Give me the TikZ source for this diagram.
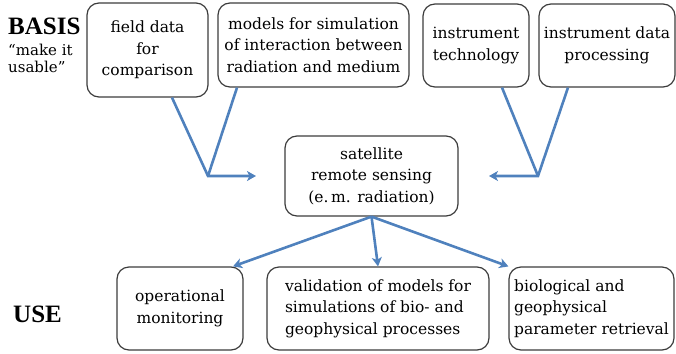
\documentclass[tikz,border=0pt]{standalone}
\usepackage{fontspec}
\setmainfont{DejaVu Serif}
\newfontfamily\headfont{Liberation Serif}
\usetikzlibrary{positioning,arrows.meta,calc}
\definecolor{flowblue}{RGB}{79,129,189}
\definecolor{boxgray}{RGB}{60,60,60}

\begin{document}
\begin{tikzpicture}[x=1pt, y=-1pt,
        topic/.style={rounded corners=12pt, draw=boxgray, line width=1.2pt, align=center, inner sep=2pt,
            font=\fontsize{15.5}{21.5}\selectfont},
        heading/.style={font=\headfont\bfseries\fontsize{25}{28}\selectfont, inner sep=0pt},
        flow/.style={draw=flowblue, line width=2.6pt},
        arrow/.style={flow, -{Stealth[length=9pt, width=10pt, inset=2.5pt]}}
    ]
        \useasboundingbox (0,0) rectangle (676,353);

        % top row (basis)
        \node[heading, anchor=base west] (basis) at (8,35) {BASIS};
        \node[anchor=north west, align=left, inner sep=0pt, font=\fontsize{15}{17}\selectfont] (usable) at (8,44) {“make it\\usable”};
        \node[topic, minimum width=121pt, minimum height=94pt] (field) at (147.5,50) {field data\\for\\comparison};
        \node[topic, minimum width=191pt, minimum height=84pt] (models) at (313.5,45) {models for simulation\\of interaction between\\radiation and medium};
        \node[topic, minimum width=106pt, minimum height=83pt] (insttech) at (476,45.5) {instrument\\technology};
        \node[topic, minimum width=136pt, minimum height=83pt] (instproc) at (607,45.5) {instrument data\\processing};

        % centre
        \node[topic, minimum width=173pt, minimum height=80pt] (sat) at (371.5,176) {satellite\\remote sensing\\(e.\,m. radiation)};

        % bottom row (use)
        \node[heading, anchor=base west] (use) at (13,322) {USE};
        \node[topic, minimum width=126pt, minimum height=83pt] (opmon) at (180,308.5) {operational\\monitoring};
        \node[topic, align=left, minimum width=222pt, minimum height=83pt] (valid) at (378,308.5) {validation of models for\\simulations of bio- and\\geophysical processes};
        \node[topic, align=left, minimum width=165pt, minimum height=83pt] (bioret) at (591.5,308.5) {biological and\\geophysical\\parameter retrieval};

        \coordinate (lv) at (208,176);
        \coordinate (ltip) at (256,176);
        \coordinate (rv) at (538,176);
        \coordinate (rtip) at (489,176);

        \draw[arrow] ($(field.south)+(24.5,0)$) -- (lv) -- (ltip);
        \draw[flow] ($(models.south)+(-76.5,0)$) -- (lv);
        \draw[arrow] ($(instproc.south)+(-39,0)$) -- (rv) -- (rtip);
        \draw[flow] ($(insttech.south)+(26,0)$) -- (rv);

        \draw[arrow] (sat.south) -- ($(opmon.north)+(53,0)$);
        \draw[arrow] (sat.south) -- (valid.north);
        \draw[arrow] (sat.south) -- (bioret.north west);
    \end{tikzpicture}
\end{document}
